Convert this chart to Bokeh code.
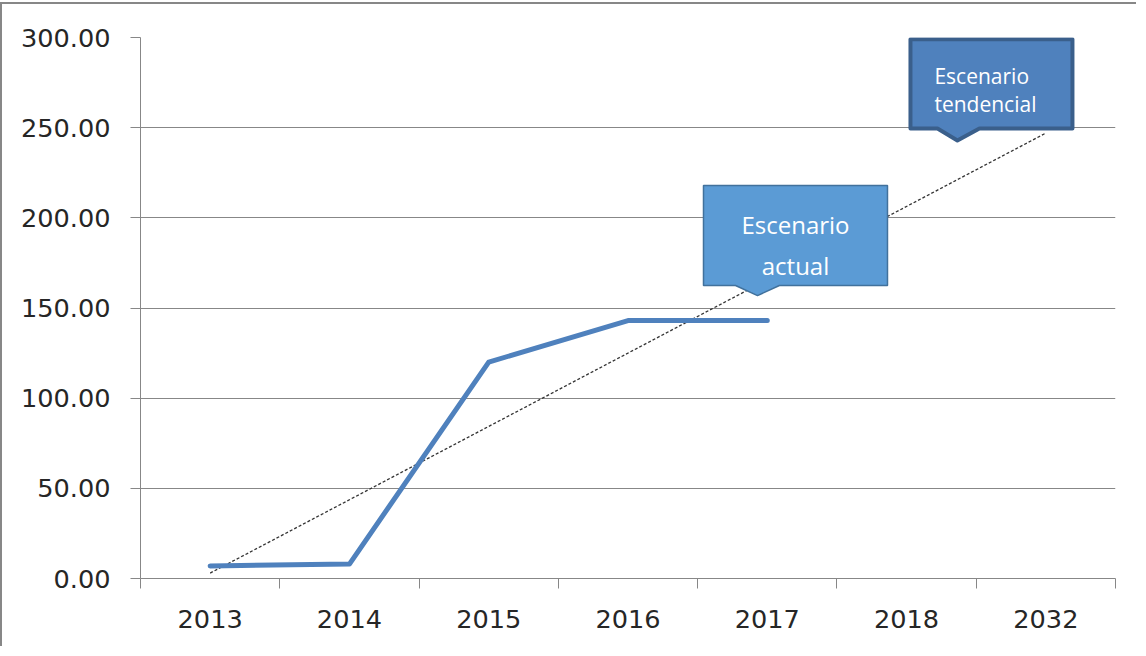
from bokeh.plotting import figure
from bokeh.models import Range1d, FixedTicker, PrintfTickFormatter
from bokeh.core.properties import value
from bokeh.embed import file_html
from bokeh.resources import INLINE

# ---- data ----
years = ["2013", "2014", "2015", "2016", "2017", "2018", "2032"]
actual_values = [7.0, 8.0, 120.0, 143.0, 143.0]          # 2013..2017
trend_years = ["2013", "2032"]
trend_values = [3.0, 247.0]                               # linear trend line ends
y_ticks = [0, 50, 100, 150, 200, 250, 300]

idx = {c: i + 0.5 for i, c in enumerate(years)}

W, H = 1136, 644
p = figure(width=W, height=H, output_backend="svg", toolbar_location=None,
           x_range=Range1d(0, len(years)), y_range=Range1d(0, 300),
           min_border_left=138, min_border_right=23, min_border_top=33, min_border_bottom=70)
p.styles = {"border-left": "2px solid #878787", "border-top": "2px solid #878787",
            "margin-top": "2px"}
p.outline_line_color = None
p.background_fill_color = "white"
p.border_fill_color = "white"

# grid
p.xgrid.visible = False
p.ygrid.ticker = FixedTicker(ticks=y_ticks)
p.ygrid.grid_line_color = "#878787"
p.ygrid.grid_line_width = 1

# y axis
ya = p.yaxis[0]
ya.ticker = FixedTicker(ticks=y_ticks)
ya.formatter = PrintfTickFormatter(format="%.2f")
ya.axis_line_color = "#878787"
ya.major_tick_line_color = "#878787"
ya.major_tick_out = 10
ya.major_tick_in = 0
ya.minor_tick_line_color = None
ya.major_label_text_font = "DejaVu Sans"
ya.major_label_text_font_size = "25.6px"
ya.major_label_text_color = "#262626"
ya.major_label_standoff = 20

# x axis: labels at centres, ticks at boundaries
xa = p.xaxis[0]
xa.ticker = FixedTicker(ticks=[idx[c] for c in years],
                        minor_ticks=list(range(len(years) + 1)))
xa.major_label_overrides = {idx[c]: c for c in years}
xa.axis_line_color = "#878787"
xa.major_tick_line_color = None
xa.major_tick_out = 0
xa.major_tick_in = 0
xa.minor_tick_line_color = "#878787"
xa.minor_tick_out = 10
xa.minor_tick_in = 0
xa.major_label_text_font = "DejaVu Sans"
xa.major_label_text_font_size = "25.6px"
xa.major_label_text_color = "#262626"
xa.major_label_standoff = 21

# trend line
p.line([idx[c] for c in trend_years], trend_values, line_color="#333333",
       line_width=1.3, line_dash="3 2")

# actual line
p.line([idx[c] for c in years[:len(actual_values)]], actual_values,
       line_color="#4F81BD", line_width=5, line_cap="round", line_join="round")

# callout: Escenario actual
c1x = [4.042, 5.363, 5.363, 4.587, 4.430, 4.272, 4.042]
c1y = [217.9, 217.9, 162.5, 162.5, 156.9, 162.5, 162.5]
p.patch(c1x, c1y, fill_color="#5B9BD5", line_color="#41719C", line_width=1.5)
p.text(x=[4.7025, 4.7025], y=[196.3, 173.6], text=["Escenario", "actual"],
       text_font=value("Open Sans"), text_font_size="24px", text_color="white",
       text_align="center", text_baseline="alphabetic")

# callout: Escenario tendencial
c2x = [5.528, 6.691, 6.691, 6.023, 5.865, 5.722, 5.528]
c2y = [299.0, 299.0, 249.5, 249.5, 242.9, 249.5, 249.5]
p.patch(c2x, c2y, fill_color="#4F81BD", line_color="#3A5F8B", line_width=4,
        line_join="round")
p.text(x=[5.700, 5.700], y=[278.8, 263.0], text=["Escenario", "tendencial"],
       text_font=value("Open Sans"), text_font_size="21px", text_color="white",
       text_align="left", text_baseline="alphabetic")

open("out.html", "w").write(file_html(p, INLINE))
